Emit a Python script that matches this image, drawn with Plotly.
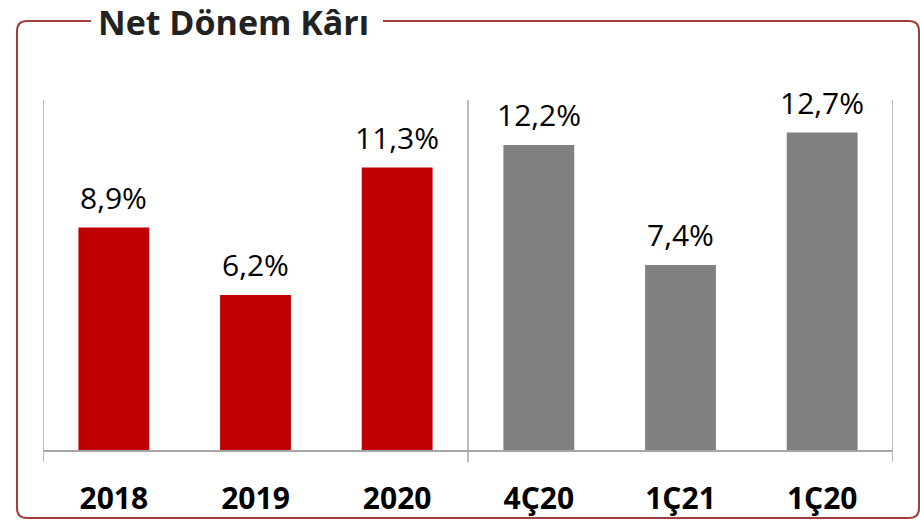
import plotly.graph_objects as go

categories = ["2018", "2019", "2020", "4Ç20", "1Ç21", "1Ç20"]
values = [8.9, 6.2, 11.3, 12.2, 7.4, 12.7]
labels = ["8,9%", "6,2%", "11,3%", "12,2%", "7,4%", "12,7%"]
colors = ["#C00000", "#C00000", "#C00000", "#808080", "#808080", "#808080"]
title_text = "Net Dönem Kârı"

# reference picture size; everything is placed as fractions of it,
# the figure itself fills the whole browser viewport
RW, RH = 920.0, 520.0


def fx(x):
    return x / RW


def fy(y):
    return 1 - y / RH


fig = go.Figure()
fig.add_trace(go.Bar(x=categories, y=values, marker_color=colors, width=0.5,
                     marker_line_width=0, hoverinfo="skip"))

for i, (v, t) in enumerate(zip(values, labels)):
    fig.add_annotation(x=i, y=v, xref="x", yref="y", text=t, showarrow=False, yanchor="bottom",
                       yshift=8, font=dict(family="Open Sans", size=30, color="#000000"))

grid_color = "#A6A6A6"
n = len(categories)
for b in [-0.5, 2.5, n - 0.5]:
    fig.add_shape(type="line", xref="x", yref="paper", x0=b, x1=b, y0=fy(462), y1=fy(100),
                  line=dict(color=grid_color, width=1.5), layer="below")

# rounded frame
l_, r_, t_, b_, rad = 17, 919, 21, 518, 10
pts = [
    ("M", [(91, t_)]), ("L", [(l_ + rad, t_)]), ("Q", [(l_, t_), (l_, t_ + rad)]),
    ("L", [(l_, b_ - rad)]), ("Q", [(l_, b_), (l_ + rad, b_)]),
    ("L", [(r_ - rad, b_)]), ("Q", [(r_, b_), (r_, b_ - rad)]),
    ("L", [(r_, t_ + rad)]), ("Q", [(r_, t_), (r_ - rad, t_)]),
    ("L", [(383, t_)]),
]
path = " ".join(cmd + " " + " ".join(f"{fx(x):.5f},{fy(y):.5f}" for x, y in p) for cmd, p in pts)
fig.add_shape(type="path", xref="paper", yref="paper", path=path,
              line=dict(color="#A0403E", width=2))

fig.add_annotation(x=fx(234), y=fy(22), xref="paper", yref="paper", text="<b>" + title_text + "</b>",
                   showarrow=False, xanchor="center", yanchor="middle",
                   font=dict(family="Open Sans", size=34, color="#222222"))

fig.update_layout(
    autosize=True, margin=dict(l=0, r=0, t=0, b=0),
    paper_bgcolor="white", plot_bgcolor="white", showlegend=False,
    bargap=0.5,
    xaxis=dict(type="category", range=[-0.5, n - 0.5], domain=[fx(43), fx(893)],
               showgrid=False, showline=True, automargin=False,
               linecolor=grid_color, linewidth=1.5, ticks="outside", ticklen=21,
               tickcolor="rgba(0,0,0,0)",
               tickfont=dict(family="Open Sans", size=30, color="#000000", weight="bold"),
               fixedrange=True),
    yaxis=dict(range=[0, 14], domain=[fy(450), fy(100)], visible=False, showgrid=False,
               zeroline=False, automargin=False, fixedrange=True),
)

css_fix = (
    "var s=document.createElement('style');"
    "s.textContent='html,body{margin:0;padding:0;overflow:hidden;}';"
    "document.head.appendChild(s);"
)
fig.write_html("out.html", config={"displayModeBar": False},
               default_width="100vw", default_height="100vh", post_script=css_fix)
